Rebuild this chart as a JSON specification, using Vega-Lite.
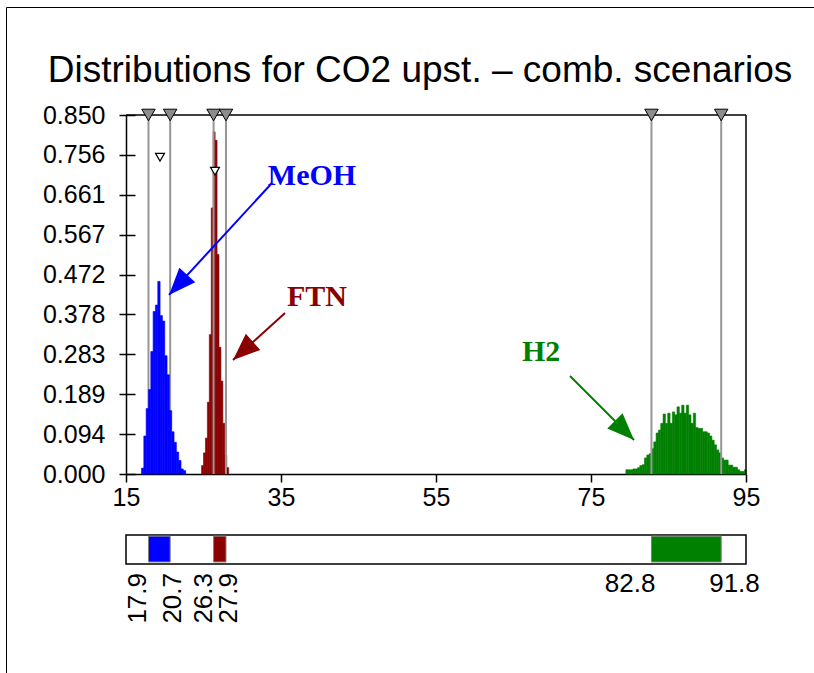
{
  "$schema": "https://vega.github.io/schema/vega-lite/v6.json",
  "width": 808,
  "height": 666,
  "autosize": {"type": "none"},
  "padding": {"left": 6, "top": 7, "right": 0, "bottom": 0},
  "background": "white",
  "title": {
    "text": "Distributions for CO2 upst. – comb. scenarios",
    "font": "Liberation Sans",
    "fontSize": 37,
    "fontWeight": "normal",
    "color": "black",
    "anchor": "middle",
    "frame": "group",
    "baseline": "alphabetic",
    "offset": -112,
    "dx": 10
  },
  "config": {
    "view": {"stroke": "black", "strokeWidth": 1},
    "font": "Liberation Sans"
  },
  "datasets": {
    "hist": [
      {"s": "MeOH", "x0": 17.0, "x1": 17.3, "d": 0.014},
      {"s": "MeOH", "x0": 17.3, "x1": 17.6, "d": 0.09},
      {"s": "MeOH", "x0": 17.6, "x1": 17.9, "d": 0.155},
      {"s": "MeOH", "x0": 17.9, "x1": 18.2, "d": 0.2},
      {"s": "MeOH", "x0": 18.2, "x1": 18.5, "d": 0.29},
      {"s": "MeOH", "x0": 18.5, "x1": 18.8, "d": 0.385},
      {"s": "MeOH", "x0": 18.8, "x1": 19.1, "d": 0.4},
      {"s": "MeOH", "x0": 19.1, "x1": 19.4, "d": 0.456},
      {"s": "MeOH", "x0": 19.4, "x1": 19.7, "d": 0.375},
      {"s": "MeOH", "x0": 19.7, "x1": 20.0, "d": 0.362},
      {"s": "MeOH", "x0": 20.0, "x1": 20.3, "d": 0.28},
      {"s": "MeOH", "x0": 20.3, "x1": 20.6, "d": 0.235},
      {"s": "MeOH", "x0": 20.6, "x1": 20.9, "d": 0.15},
      {"s": "MeOH", "x0": 20.9, "x1": 21.2, "d": 0.1},
      {"s": "MeOH", "x0": 21.2, "x1": 21.5, "d": 0.075},
      {"s": "MeOH", "x0": 21.5, "x1": 21.8, "d": 0.052},
      {"s": "MeOH", "x0": 21.8, "x1": 22.1, "d": 0.032},
      {"s": "MeOH", "x0": 22.1, "x1": 22.4, "d": 0.012},
      {"s": "MeOH", "x0": 22.4, "x1": 22.7, "d": 0.008},
      {"s": "FTN", "x0": 24.75, "x1": 25.0, "d": 0.02},
      {"s": "FTN", "x0": 25.0, "x1": 25.25, "d": 0.05},
      {"s": "FTN", "x0": 25.25, "x1": 25.5, "d": 0.085},
      {"s": "FTN", "x0": 25.5, "x1": 25.75, "d": 0.17},
      {"s": "FTN", "x0": 25.75, "x1": 26.0, "d": 0.33},
      {"s": "FTN", "x0": 26.0, "x1": 26.25, "d": 0.63},
      {"s": "FTN", "x0": 26.25, "x1": 26.5, "d": 0.81},
      {"s": "FTN", "x0": 26.5, "x1": 26.75, "d": 0.79},
      {"s": "FTN", "x0": 26.75, "x1": 27.0, "d": 0.52},
      {"s": "FTN", "x0": 27.0, "x1": 27.25, "d": 0.3},
      {"s": "FTN", "x0": 27.25, "x1": 27.5, "d": 0.22},
      {"s": "FTN", "x0": 27.5, "x1": 27.75, "d": 0.12},
      {"s": "FTN", "x0": 27.75, "x1": 28.0, "d": 0.045},
      {"s": "FTN", "x0": 28.0, "x1": 28.25, "d": 0.015},
      {"s": "H2", "x0": 79.5, "x1": 79.8, "d": 0.01},
      {"s": "H2", "x0": 79.8, "x1": 80.1, "d": 0.01},
      {"s": "H2", "x0": 80.1, "x1": 80.4, "d": 0.01},
      {"s": "H2", "x0": 80.4, "x1": 80.7, "d": 0.012},
      {"s": "H2", "x0": 80.7, "x1": 81.0, "d": 0.012},
      {"s": "H2", "x0": 81.0, "x1": 81.3, "d": 0.015},
      {"s": "H2", "x0": 81.3, "x1": 81.6, "d": 0.02},
      {"s": "H2", "x0": 81.6, "x1": 81.9, "d": 0.022},
      {"s": "H2", "x0": 81.9, "x1": 82.2, "d": 0.038},
      {"s": "H2", "x0": 82.2, "x1": 82.5, "d": 0.045},
      {"s": "H2", "x0": 82.5, "x1": 82.8, "d": 0.048},
      {"s": "H2", "x0": 82.8, "x1": 83.1, "d": 0.06},
      {"s": "H2", "x0": 83.1, "x1": 83.4, "d": 0.076},
      {"s": "H2", "x0": 83.4, "x1": 83.7, "d": 0.097},
      {"s": "H2", "x0": 83.7, "x1": 84.0, "d": 0.104},
      {"s": "H2", "x0": 84.0, "x1": 84.3, "d": 0.12},
      {"s": "H2", "x0": 84.3, "x1": 84.6, "d": 0.142},
      {"s": "H2", "x0": 84.6, "x1": 84.9, "d": 0.12},
      {"s": "H2", "x0": 84.9, "x1": 85.2, "d": 0.144},
      {"s": "H2", "x0": 85.2, "x1": 85.5, "d": 0.12},
      {"s": "H2", "x0": 85.5, "x1": 85.8, "d": 0.147},
      {"s": "H2", "x0": 85.8, "x1": 86.1, "d": 0.14},
      {"s": "H2", "x0": 86.1, "x1": 86.4, "d": 0.159},
      {"s": "H2", "x0": 86.4, "x1": 86.7, "d": 0.144},
      {"s": "H2", "x0": 86.7, "x1": 87.0, "d": 0.163},
      {"s": "H2", "x0": 87.0, "x1": 87.3, "d": 0.144},
      {"s": "H2", "x0": 87.3, "x1": 87.6, "d": 0.163},
      {"s": "H2", "x0": 87.6, "x1": 87.9, "d": 0.14},
      {"s": "H2", "x0": 87.9, "x1": 88.2, "d": 0.12},
      {"s": "H2", "x0": 88.2, "x1": 88.5, "d": 0.144},
      {"s": "H2", "x0": 88.5, "x1": 88.8, "d": 0.11},
      {"s": "H2", "x0": 88.8, "x1": 89.1, "d": 0.108},
      {"s": "H2", "x0": 89.1, "x1": 89.4, "d": 0.108},
      {"s": "H2", "x0": 89.4, "x1": 89.7, "d": 0.1},
      {"s": "H2", "x0": 89.7, "x1": 90.0, "d": 0.1},
      {"s": "H2", "x0": 90.0, "x1": 90.3, "d": 0.097},
      {"s": "H2", "x0": 90.3, "x1": 90.6, "d": 0.09},
      {"s": "H2", "x0": 90.6, "x1": 90.9, "d": 0.08},
      {"s": "H2", "x0": 90.9, "x1": 91.2, "d": 0.069},
      {"s": "H2", "x0": 91.2, "x1": 91.5, "d": 0.057},
      {"s": "H2", "x0": 91.5, "x1": 91.8, "d": 0.05},
      {"s": "H2", "x0": 91.8, "x1": 92.1, "d": 0.038},
      {"s": "H2", "x0": 92.1, "x1": 92.4, "d": 0.033},
      {"s": "H2", "x0": 92.4, "x1": 92.7, "d": 0.033},
      {"s": "H2", "x0": 92.7, "x1": 93.0, "d": 0.021},
      {"s": "H2", "x0": 93.0, "x1": 93.3, "d": 0.021},
      {"s": "H2", "x0": 93.3, "x1": 93.6, "d": 0.016},
      {"s": "H2", "x0": 93.6, "x1": 93.9, "d": 0.016},
      {"s": "H2", "x0": 93.9, "x1": 94.2, "d": 0.01},
      {"s": "H2", "x0": 94.2, "x1": 94.5, "d": 0.006},
      {"s": "H2", "x0": 94.5, "x1": 94.8, "d": 0.006},
      {"s": "H2", "x0": 94.8, "x1": 95.0, "d": 0.01}
    ],
    "bounds": [
      {"s": "MeOH", "end": "lo", "v": 17.9},
      {"s": "MeOH", "end": "hi", "v": 20.7},
      {"s": "FTN", "end": "lo", "v": 26.3},
      {"s": "FTN", "end": "hi", "v": 27.9},
      {"s": "H2", "end": "lo", "v": 82.8},
      {"s": "H2", "end": "hi", "v": 91.8}
    ],
    "ranges": [
      {"s": "MeOH", "lo": 17.9, "hi": 20.7},
      {"s": "FTN", "lo": 26.3, "hi": 27.9},
      {"s": "H2", "lo": 82.8, "hi": 91.8}
    ],
    "notes": [
      {"s": "MeOH", "tx": 33.3, "ty": 0.684, "ax": 33.84, "ay": 0.689, "hx": 20.55, "hy": 0.424},
      {"s": "FTN", "tx": 35.77, "ty": 0.398, "ax": 35.52, "ay": 0.381, "hx": 28.81, "hy": 0.27},
      {"s": "H2", "tx": 66.1, "ty": 0.2675, "ax": 72.29, "ay": 0.232, "hx": 80.55, "hy": 0.0805}
    ],
    "marks": [
      {"s": "MeOH", "x": 19.39, "y": 0.75},
      {"s": "FTN", "x": 26.48, "y": 0.717}
    ]
  },
  "resolve": {"scale": {"y": "independent"}},
  "layer": [
    {
      "layer": [
        {
          "data": {"name": "hist"},
          "transform": [{"filter": "datum.s !== 'MeOH'"}],
          "mark": {"type": "rect", "strokeWidth": 0.6},
          "encoding": {
            "x": {
              "field": "x0", "type": "quantitative",
              "scale": {"domain": [15, 95], "range": [120, 740], "nice": false, "zero": false},
              "axis": {
                "title": null, "orient": "bottom", "offset": -199,
                "values": [15, 35, 55, 75, 95], "format": "d",
                "labelFont": "Liberation Sans", "labelFontSize": 25, "labelColor": "black",
                "tickColor": "black", "tickSize": 8, "tickWidth": 1.5, "labelPadding": 3,
                "domainColor": "black", "domainWidth": 1.5, "grid": false, "labelFlush": false
              }
            },
            "x2": {"field": "x1"},
            "y": {
              "field": "d", "type": "quantitative",
              "scale": {"domain": [0, 0.85], "range": [467, 108], "nice": false, "zero": false},
              "axis": {
                "title": null, "orient": "left", "offset": -120,
                "values": [0, 0.0944, 0.1889, 0.2833, 0.3778, 0.4722, 0.5667, 0.6611, 0.7556, 0.85],
                "format": ".3f",
                "labelFont": "Liberation Sans", "labelFontSize": 25, "labelColor": "black",
                "tickColor": "black", "tickSize": 7, "tickWidth": 1.5, "labelPadding": 14,
                "domainColor": "black", "domainWidth": 1.5, "grid": false, "labelFlush": false
              }
            },
            "y2": {"datum": 0},
            "color": {
              "field": "s", "type": "nominal", "legend": null,
              "scale": {"domain": ["MeOH", "FTN", "H2"], "range": ["#0000ff", "#8b0000", "#008000"]}
            },
            "stroke": {
              "field": "s", "type": "nominal", "legend": null,
              "scale": {"domain": ["MeOH", "FTN", "H2"], "range": ["#0000ff", "#8b0000", "#008000"]}
            }
          }
        },
        {
          "data": {"name": "bounds"},
          "mark": {"type": "rule", "color": "#969696", "strokeWidth": 2},
          "encoding": {
            "x": {"field": "v", "type": "quantitative"},
            "y": {"datum": 0, "type": "quantitative"},
            "y2": {"datum": 0.85}
          }
        },
        {
          "data": {"name": "hist"},
          "transform": [{"filter": "datum.s === 'MeOH'"}],
          "mark": {"type": "rect", "strokeWidth": 0.6},
          "encoding": {
            "x": {"field": "x0", "type": "quantitative"},
            "x2": {"field": "x1"},
            "y": {"field": "d", "type": "quantitative"},
            "y2": {"datum": 0},
            "color": {"field": "s", "type": "nominal", "legend": null},
            "stroke": {"field": "s", "type": "nominal", "legend": null}
          }
        },
        {
          "data": {"values": [{}]},
          "mark": {"type": "rule", "color": "black", "strokeWidth": 1.5},
          "encoding": {
            "x": {"datum": 15, "type": "quantitative"},
            "x2": {"datum": 95},
            "y": {"datum": 0.85, "type": "quantitative"}
          }
        },
        {
          "data": {"values": [{}]},
          "mark": {"type": "rule", "color": "black", "strokeWidth": 1.5},
          "encoding": {
            "x": {"datum": 95, "type": "quantitative"},
            "y": {"datum": 0, "type": "quantitative"},
            "y2": {"datum": 0.85}
          }
        },
        {
          "data": {"name": "notes"},
          "mark": {"type": "rule", "strokeWidth": 2},
          "encoding": {
            "x": {"field": "ax", "type": "quantitative"},
            "y": {"field": "ay", "type": "quantitative"},
            "x2": {"field": "hx"},
            "y2": {"field": "hy"},
            "color": {"field": "s", "type": "nominal", "legend": null}
          }
        },
        {
          "data": {"name": "notes"},
          "mark": {"type": "point", "filled": true, "opacity": 1, "size": 2916, "strokeWidth": 0},
          "encoding": {
            "x": {"field": "hx", "type": "quantitative"},
            "y": {"field": "hy", "type": "quantitative"},
            "shape": {
              "field": "s", "type": "nominal", "legend": null,
              "scale": {
                "domain": ["MeOH", "FTN", "H2"],
                "range": [
                  "M0,0L0.971,-0.465L0.383,-1.007Z",
                  "M0,0L1.01,-0.373L0.474,-0.967Z",
                  "M0,0L-0.424,-0.99L-0.99,-0.424Z"
                ]
              }
            },
            "color": {"field": "s", "type": "nominal", "legend": null}
          }
        },
        {
          "data": {"name": "notes"},
          "mark": {"type": "text", "font": "Liberation Serif", "fontWeight": "bold", "fontSize": 30, "align": "left", "baseline": "alphabetic"},
          "encoding": {
            "x": {"field": "tx", "type": "quantitative"},
            "y": {"field": "ty", "type": "quantitative"},
            "text": {"field": "s"},
            "color": {"field": "s", "type": "nominal", "legend": null}
          }
        },
        {
          "data": {"name": "bounds"},
          "mark": {"type": "point", "shape": "triangle-down", "filled": true, "fill": "#8c8c8c", "stroke": "black", "strokeWidth": 1, "size": 180, "opacity": 1},
          "encoding": {
            "x": {"field": "v", "type": "quantitative"},
            "y": {"datum": 0.85, "type": "quantitative"}
          }
        },
        {
          "data": {"name": "marks"},
          "mark": {"type": "point", "shape": "triangle-down", "filled": true, "fill": "white", "stroke": "black", "strokeWidth": 1.2, "size": 80, "opacity": 1},
          "encoding": {
            "x": {"field": "x", "type": "quantitative"},
            "y": {"field": "y", "type": "quantitative"}
          }
        }
      ]
    },
    {
      "data": {"values": [{}]},
      "mark": {"type": "rule", "opacity": 0},
      "encoding": {
        "x": {"datum": 15, "type": "quantitative"},
        "y": {
          "datum": 0, "type": "quantitative",
          "scale": {"domain": [0, 0.85], "range": [467, 108], "nice": false, "zero": false},
          "axis": {
            "title": null, "orient": "left", "offset": -120,
            "values": [0, 0.0944, 0.1889, 0.2833, 0.3778, 0.4722, 0.5667, 0.6611, 0.7556, 0.85],
            "labels": false, "domain": false, "grid": false,
            "tickColor": "black", "tickSize": -9, "tickWidth": 1.5
          }
        },
        "y2": {"datum": 0.85}
      }
    },
    {
      "layer": [
        {
          "data": {"values": [{}]},
          "mark": {"type": "rect", "fill": "white", "stroke": "black", "strokeWidth": 1.5},
          "encoding": {
            "x": {"datum": 15, "type": "quantitative"},
            "x2": {"datum": 95},
            "y": {"datum": 0, "type": "quantitative", "scale": {"domain": [0, 1], "range": [557, 528], "nice": false, "zero": false}, "axis": null},
            "y2": {"datum": 1}
          }
        },
        {
          "data": {"name": "ranges"},
          "mark": {"type": "rect", "stroke": "#808080", "strokeWidth": 1},
          "encoding": {
            "x": {"field": "lo", "type": "quantitative"},
            "x2": {"field": "hi"},
            "y": {"datum": 0.07, "type": "quantitative", "axis": null},
            "y2": {"datum": 0.96},
            "color": {"field": "s", "type": "nominal", "legend": null}
          }
        },
        {
          "data": {"name": "bounds"},
          "transform": [{"filter": "datum.s !== 'H2' && datum.end === 'lo'"}],
          "mark": {"type": "text", "angle": 270, "align": "right", "baseline": "alphabetic", "dx": -9, "dy": -2, "font": "Liberation Sans", "fontSize": 26, "color": "black"},
          "encoding": {
            "x": {"field": "v", "type": "quantitative"},
            "y": {"datum": 0, "type": "quantitative", "axis": null},
            "text": {"field": "v", "type": "quantitative", "format": ".1f"}
          }
        },
        {
          "data": {"name": "bounds"},
          "transform": [{"filter": "datum.s !== 'H2' && datum.end === 'hi'"}],
          "mark": {"type": "text", "angle": 270, "align": "right", "baseline": "alphabetic", "dx": -9, "dy": 11, "font": "Liberation Sans", "fontSize": 26, "color": "black"},
          "encoding": {
            "x": {"field": "v", "type": "quantitative"},
            "y": {"datum": 0, "type": "quantitative", "axis": null},
            "text": {"field": "v", "type": "quantitative", "format": ".1f"}
          }
        },
        {
          "data": {"name": "bounds"},
          "transform": [{"filter": "datum.s === 'H2' && datum.end === 'lo'"}],
          "mark": {"type": "text", "align": "right", "baseline": "top", "dx": 4, "dy": 7, "font": "Liberation Sans", "fontSize": 26, "color": "black"},
          "encoding": {
            "x": {"field": "v", "type": "quantitative"},
            "y": {"datum": 0, "type": "quantitative", "axis": null},
            "text": {"field": "v", "type": "quantitative", "format": ".1f"}
          }
        },
        {
          "data": {"name": "bounds"},
          "transform": [{"filter": "datum.s === 'H2' && datum.end === 'hi'"}],
          "mark": {"type": "text", "align": "left", "baseline": "top", "dx": -12, "dy": 7, "font": "Liberation Sans", "fontSize": 26, "color": "black"},
          "encoding": {
            "x": {"field": "v", "type": "quantitative"},
            "y": {"datum": 0, "type": "quantitative", "axis": null},
            "text": {"field": "v", "type": "quantitative", "format": ".1f"}
          }
        }
      ]
    }
  ]
}
